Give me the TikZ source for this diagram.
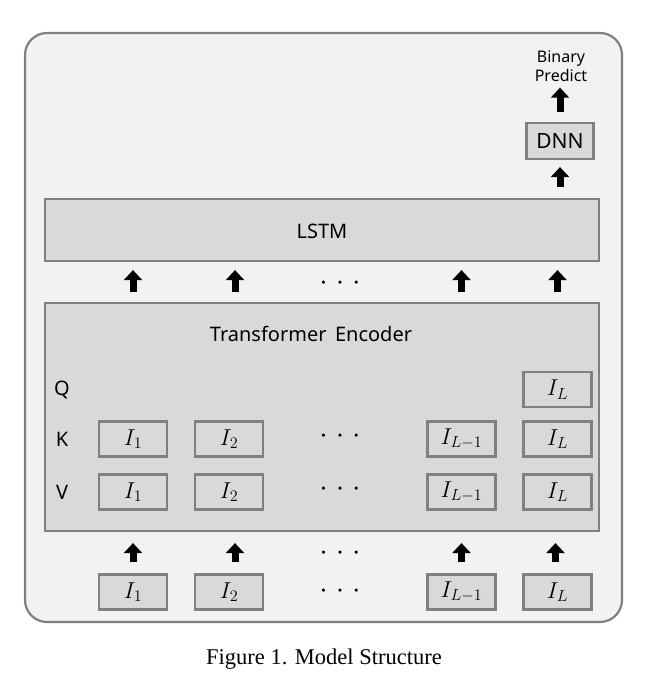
\RequirePackage{fix-cm}
\documentclass[tikz,border=0pt]{standalone}
\usepackage{fontspec}
\setmainfont{Noto Sans}
\newfontfamily\capfont{Liberation Serif}
\usetikzlibrary{arrows.meta}
\definecolor{framefill}{HTML}{F2F2F2}
\definecolor{boxfill}{HTML}{D9D9D9}
\definecolor{edge}{HTML}{808080}
\tikzset{
  bigbox/.style={draw=edge, line width=2.2pt, fill=boxfill, inner sep=0pt},
  tok/.style={draw=edge, line width=2.2pt, fill=boxfill, inner sep=0pt,
    minimum width=68pt, minimum height=35pt, font=\fontsize{23}{26}\selectfont},
  blk/.style={line width=7pt, -{Triangle[width=18pt,length=10pt]}},
  lbl/.style={font=\fontsize{20}{24}\selectfont, inner sep=0pt},
  dots/.style={inner sep=0pt, font=\fontsize{7.5}{8}\selectfont},
}
\newcommand{\tdots}{$\bullet$\hspace{12pt}$\bullet$\hspace{12pt}$\bullet$}
\begin{document}
\begin{tikzpicture}[x=1pt,y=-1pt]
\useasboundingbox (0,0) rectangle (653,683);
\fill[white] (0,0) rectangle (653,683);
% outer frame
\node[draw=edge, line width=2.2pt, fill=framefill, rounded corners=22pt,
  minimum width=597pt, minimum height=589pt, inner sep=0pt] (frame) at (323.5,327.5) {};
% big boxes
\node[bigbox, minimum width=554pt, minimum height=62pt] (lstm) at (322,230) {};
\node[lbl] at (322,231) {LSTM};
\node[bigbox, minimum width=554pt, minimum height=228pt] (enc) at (322,417) {};
\node[lbl] (enctext) at (311,334) {Transformer\, Encoder};
\node[bigbox, minimum width=67pt, minimum height=36pt, font=\fontsize{21}{24}\selectfont] (dnn) at (560,141) {DNN};
\node[align=center, inner sep=0pt, font=\fontsize{16}{19}\selectfont] (bp) at (561,66) {Binary\\Predict};
% QKV labels
\node[lbl] (Q) at (62,390) {Q};
\node[lbl] (K) at (62,439) {K};
\node[lbl] (V) at (62,492) {V};
% tokens
\node[tok] (q4) at (557.5,389.5) {$I_L$};
\node[tok] (k1) at (133,439) {$I_1$};
\node[tok] (k2) at (229,439) {$I_2$};
\node[tok] (k3) at (461.5,439) {$I_{L-1}$};
\node[tok] (k4) at (557.5,439) {$I_L$};
\node[tok] (v1) at (133,492) {$I_1$};
\node[tok] (v2) at (229,492) {$I_2$};
\node[tok] (v3) at (461.5,492) {$I_{L-1}$};
\node[tok] (v4) at (557.5,492) {$I_L$};
\node[tok] (b1) at (133,592) {$I_1$};
\node[tok] (b2) at (229,592) {$I_2$};
\node[tok] (b3) at (461.5,592) {$I_{L-1}$};
\node[tok] (b4) at (557.5,592) {$I_L$};
% dots
\node[dots] (dl) at (340,283) {\tdots};
\node[dots] (dk) at (340,436) {\tdots};
\node[dots] (dv) at (340,489) {\tdots};
\node[dots] (da) at (340,553) {\tdots};
\node[dots] (db) at (340,591) {\tdots};
% arrows inputs -> encoder
\draw[blk, shorten <=11pt, shorten >=11pt] (b1.north) -- (b1.north |- enc.south);
\draw[blk, shorten <=11pt, shorten >=11pt] ([xshift=6pt]b2.north) -- ([xshift=6pt]b2.north |- enc.south);
\draw[blk, shorten <=11pt, shorten >=11pt] (b3.north) -- (b3.north |- enc.south);
\draw[blk, shorten <=11pt, shorten >=11pt] ([xshift=-2pt]b4.north) -- ([xshift=-2pt]b4.north |- enc.south);
% arrows encoder -> LSTM
\draw[blk, shorten <=10pt, shorten >=8pt] (b1.north |- enc.north) -- (b1.north |- lstm.south);
\draw[blk, shorten <=10pt, shorten >=8pt] ([xshift=6pt]b2.north |- enc.north) -- ([xshift=6pt]b2.north |- lstm.south);
\draw[blk, shorten <=10pt, shorten >=8pt] (b3.north |- enc.north) -- (b3.north |- lstm.south);
\draw[blk, shorten <=10pt, shorten >=8pt] (b4.north |- enc.north) -- (b4.north |- lstm.south);
% LSTM -> DNN -> output
\draw[blk, shorten <=11pt, shorten >=7pt] (dnn.south |- lstm.north) -- (dnn.south);
\draw[blk, shorten <=10pt, shorten >=6pt] (dnn.north) -- (dnn.north |- bp.south);
% caption
\node[anchor=base, inner sep=0pt, font=\capfont\fontsize{22.5}{26}\selectfont] (cap) at (324,664) {Figure 1. Model Structure};
\end{tikzpicture}
\end{document}
